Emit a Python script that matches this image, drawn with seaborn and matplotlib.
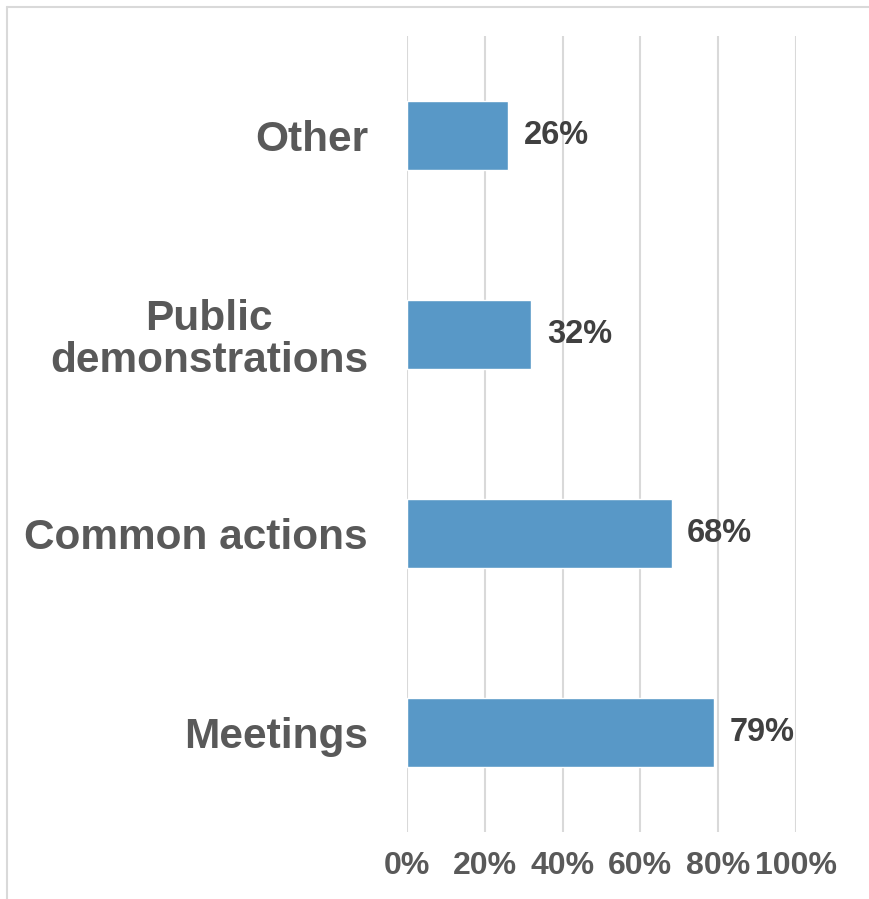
import matplotlib
matplotlib.use("Agg")
import matplotlib.pyplot as plt
from matplotlib.lines import Line2D
import seaborn as sns
import pandas as pd

# Survey responses: share of respondents per type of activity
categories = ["Other", "Public\ndemonstrations", "Common actions", "Meetings"]
shares = [26, 32, 68, 79]
tick_values = [0, 20, 40, 60, 80, 100]
tick_labels = ["0%", "20%", "40%", "60%", "80%", "100%"]

df = pd.DataFrame({"category": categories, "share": shares})

sns.set_theme(style="white")
plt.rcParams["font.family"] = ["Liberation Sans", "DejaVu Sans"]

W, H = 869, 899
fig = plt.figure(figsize=(W / 100, H / 100), dpi=100)
ax = fig.add_axes([407 / W, 1 - 832 / H, (796 - 407) / W, (832 - 36) / H])

sns.barplot(data=df, x="share", y="category", order=categories, orient="h",
            color="#5898c7", saturation=1, width=0.35, ax=ax, zorder=3)

ax.set_xlim(0, 100)
ax.set_xticks(tick_values)
ax.set_xticklabels(tick_labels)
ax.set_xlabel("")
ax.set_ylabel("")
ax.grid(axis="x", color="#d9d9d9", linewidth=1.5, zorder=0)
ax.grid(axis="y", visible=False)
for s in ax.spines.values():
    s.set_visible(False)

ax.tick_params(axis="x", length=0, pad=14, labelsize=23, labelcolor="#595959")
ax.tick_params(axis="y", length=0, pad=28, labelsize=30.5, labelcolor="#595959")
for lbl in ax.get_xticklabels():
    lbl.set_fontweight("bold")
for lbl in ax.get_yticklabels():
    lbl.set_fontweight("bold")
    lbl.set_multialignment("center")
    lbl.set_linespacing(1.08)
    lbl.set_y(lbl.get_position()[1])

ax.bar_label(ax.containers[0], labels=[f"{v}%" for v in shares], padding=11,
             fontsize=23.5, fontweight="bold", color="#404040")

# Light outer frame (top and left edges)
fx0, fy0 = 7 / W, 1 - 7 / H
fig.add_artist(Line2D([fx0, 1.0], [fy0, fy0], transform=fig.transFigure,
                      color="#d9d9d9", linewidth=1.5))
fig.add_artist(Line2D([fx0, fx0], [0.0, fy0], transform=fig.transFigure,
                      color="#d9d9d9", linewidth=1.5))

fig.savefig("out.png", dpi=100, facecolor="white")
